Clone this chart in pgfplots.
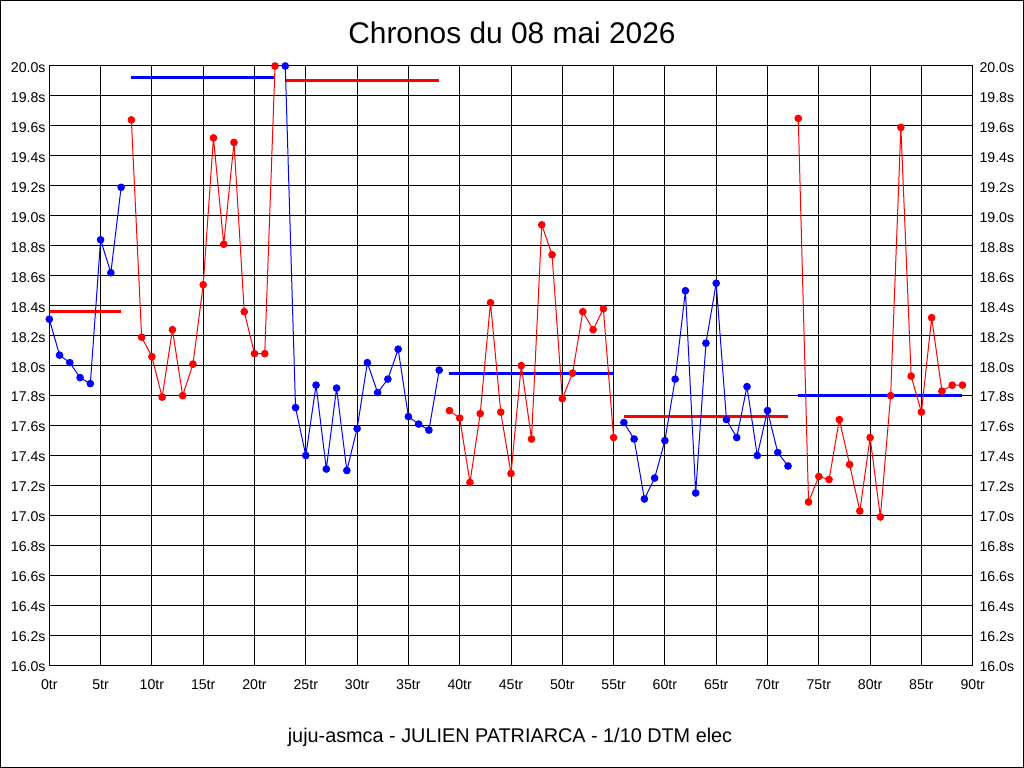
\documentclass[border=0pt]{standalone}
\usepackage{pgfplots}
\pgfplotsset{compat=1.18}
\usepackage{fontspec}
\setmainfont{Liberation Sans}

\pgfplotsset{
  chronoaxis/.style={
    scale only axis,
    width=923.4bp, height=599.3bp,
    at={(49.3bp,102.7bp)}, anchor=south west,
    xmin=0, xmax=90, ymin=16, ymax=20,
    xtick={0,5,10,15,20,25,30,35,40,45,50,55,60,65,70,75,80,85,90},
    ytick={16,16.2,16.4,16.6,16.8,17,17.2,17.4,17.6,17.8,18,18.2,18.4,18.6,18.8,19,19.2,19.4,19.6,19.8,20},
    yticklabels={16.0s,16.2s,16.4s,16.6s,16.8s,17.0s,17.2s,17.4s,17.6s,17.8s,18.0s,18.2s,18.4s,18.6s,18.8s,19.0s,19.2s,19.4s,19.6s,19.8s,20.0s},
    tick style={draw=none},
    tick label style={font=\fontsize{14.2}{16}\selectfont, text=black},
  }
}

\begin{document}
\begin{tikzpicture}
\useasboundingbox (0bp,0bp) rectangle (1024bp,768bp);
\fill[white] (0bp,0bp) rectangle (1024bp,768bp);

\begin{axis}[chronoaxis,
  xticklabels={0tr,5tr,10tr,15tr,20tr,25tr,30tr,35tr,40tr,45tr,50tr,55tr,60tr,65tr,70tr,75tr,80tr,85tr,90tr},
  xticklabel style={anchor=north, inner sep=0pt, yshift=-14bp},
  yticklabel style={anchor=east, inner sep=0pt, xshift=-3.6bp, yshift=-1.5bp},
  grid=major,
  major grid style={black, line width=1bp},
  axis line style={black, line width=1bp},
  clip marker paths=false,
]
% mean lines
\addplot[red, line width=3bp, no marks] coordinates {(0,18.36) (7,18.36)};
\addplot[blue, line width=3bp, no marks] coordinates {(8,19.92) (22,19.92)};
\addplot[red, line width=3bp, no marks] coordinates {(23,19.90) (38,19.90)};
\addplot[blue, line width=3bp, no marks] coordinates {(39,17.95) (55,17.95)};
\addplot[red, line width=3bp, no marks] coordinates {(56,17.66) (72,17.66)};
\addplot[blue, line width=3bp, no marks] coordinates {(73,17.80) (89,17.80)};

% lap times
\addplot[blue, line width=1bp, mark=*, mark size=3.3bp, mark options={solid, fill=blue, draw=blue}] coordinates {
(0,18.31) (1,18.07) (2,18.02) (3,17.92) (4,17.88) (5,18.84) (6,18.62) (7,19.19)};
\addplot[red, line width=1bp, mark=*, mark size=3.3bp, mark options={solid, fill=red, draw=red}] coordinates {
(8,19.64) (9,18.19) (10,18.06) (11,17.79) (12,18.24) (13,17.80) (14,18.01) (15,18.54) (16,19.52) (17,18.81) (18,19.49) (19,18.36) (20,18.08) (21,18.08) (22,20.00)};
\addplot[blue, line width=1bp, mark=*, mark size=3.3bp, mark options={solid, fill=blue, draw=blue}] coordinates {
(23,20.00) (24,17.72) (25,17.40) (26,17.87) (27,17.31) (28,17.85) (29,17.30) (30,17.58) (31,18.02) (32,17.82) (33,17.91) (34,18.11) (35,17.66) (36,17.61) (37,17.57) (38,17.97)};
\addplot[red, line width=1bp, mark=*, mark size=3.3bp, mark options={solid, fill=red, draw=red}] coordinates {
(39,17.70) (40,17.65) (41,17.22) (42,17.68) (43,18.42) (44,17.69) (45,17.28) (46,18.00) (47,17.51) (48,18.94) (49,18.74) (50,17.78) (51,17.95) (52,18.36) (53,18.24) (54,18.38) (55,17.52)};
\addplot[blue, line width=1bp, mark=*, mark size=3.3bp, mark options={solid, fill=blue, draw=blue}] coordinates {
(56,17.62) (57,17.51) (58,17.11) (59,17.25) (60,17.50) (61,17.91) (62,18.50) (63,17.15) (64,18.15) (65,18.55) (66,17.64) (67,17.52) (68,17.86) (69,17.40) (70,17.70) (71,17.42) (72,17.33)};
\addplot[red, line width=1bp, mark=*, mark size=3.3bp, mark options={solid, fill=red, draw=red}] coordinates {
(73,19.65) (74,17.09) (75,17.26) (76,17.24) (77,17.64) (78,17.34) (79,17.03) (80,17.52) (81,16.99) (82,17.80) (83,19.59) (84,17.93) (85,17.69) (86,18.32) (87,17.83) (88,17.87) (89,17.87)};
\end{axis}

% right-hand tick labels
\begin{axis}[chronoaxis,
  hide x axis,
  axis y line*=right,
  axis line style={draw=none},
  yticklabel pos=right,
  yticklabel style={anchor=west, inner sep=0pt, xshift=6.6bp, yshift=-1.5bp},
]
\end{axis}

\node[anchor=base, font=\fontsize{30}{34}\selectfont] at (512bp,724.7bp) {Chronos du 08 mai 2026};
\node[anchor=base, font=\fontsize{19.9}{23}\selectfont] at (510bp,25.7bp) {juju-asmca - JULIEN PATRIARCA - 1/10 DTM elec};

\draw[line width=1bp] (0.5bp,0.5bp) rectangle (1023.5bp,767.5bp);
\end{tikzpicture}
\end{document}
